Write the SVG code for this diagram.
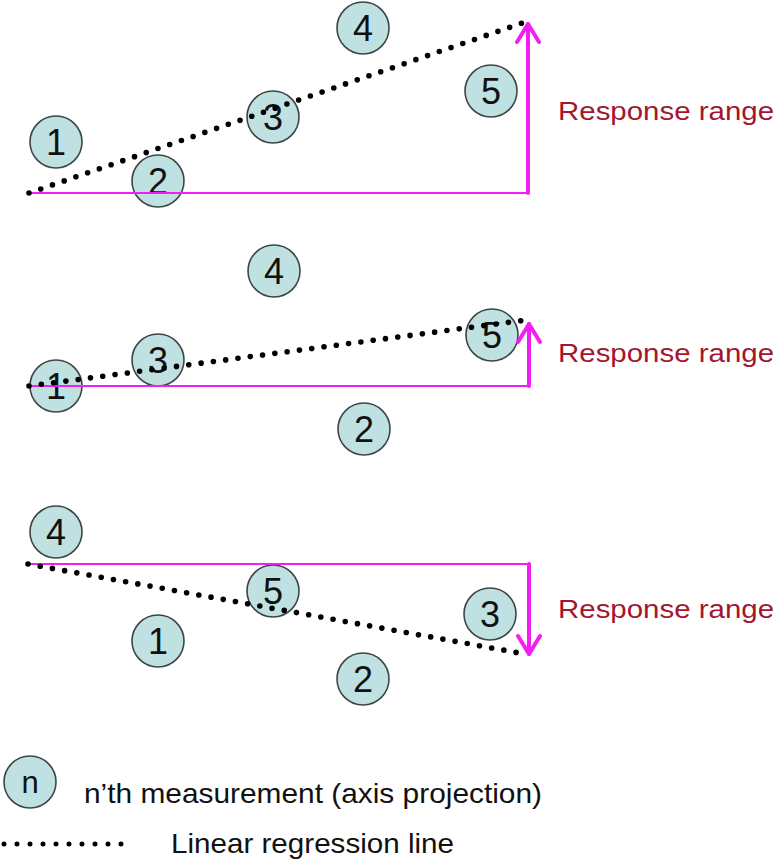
<svg xmlns="http://www.w3.org/2000/svg" width="778" height="864" viewBox="0 0 778 864">
<style>
.node circle{fill:#bfe1e1;stroke:#3d4545;stroke-width:1.6}
.node text{font-family:"Liberation Sans",Arial,sans-serif;font-size:36px;fill:#111;text-anchor:middle}
.base{stroke:#f21ef2;stroke-width:2.2;fill:none}
.arrow{stroke:#f21ef2;stroke-width:4;fill:none;stroke-linecap:round;stroke-linejoin:round}
.reg{stroke:#000;stroke-width:5.6;stroke-linecap:round;stroke-dasharray:0 12.4;fill:none}
.lbl{font-family:"Liberation Sans",Arial,sans-serif;font-size:26.5px;fill:#a3162f}
.leg{font-family:"Liberation Sans",Arial,sans-serif;font-size:28.5px;fill:#111}
</style>
<rect width="778" height="864" fill="#fff"/>
<!-- Panel 1 nodes -->
<g id="p1n1" class="node"><circle cx="56" cy="142" r="26"/><text x="56" y="155">1</text></g>
<g id="p1n2" class="node"><circle cx="158" cy="181" r="26"/><text x="158" y="194">2</text></g>
<g id="p1n3" class="node"><circle cx="273" cy="117" r="26"/><text x="273" y="130">3</text></g>
<g id="p1n4" class="node"><circle cx="363" cy="28" r="26"/><text x="363" y="41">4</text></g>
<g id="p1n5" class="node"><circle cx="491" cy="91" r="26"/><text x="491" y="104">5</text></g>
<!-- Panel 2 nodes -->
<g id="p2n1" class="node"><circle cx="56" cy="386" r="26"/><text x="56" y="399">1</text></g>
<g id="p2n2" class="node"><circle cx="364" cy="429" r="26"/><text x="364" y="442">2</text></g>
<g id="p2n3" class="node"><circle cx="158" cy="360" r="26"/><text x="158" y="373">3</text></g>
<g id="p2n4" class="node"><circle cx="274" cy="271" r="26"/><text x="274" y="284">4</text></g>
<g id="p2n5" class="node"><circle cx="492" cy="335" r="26"/><text x="492" y="348">5</text></g>
<!-- Panel 3 nodes -->
<g id="p3n1" class="node"><circle cx="158" cy="641" r="26"/><text x="158" y="654">1</text></g>
<g id="p3n2" class="node"><circle cx="363" cy="679" r="26"/><text x="363" y="692">2</text></g>
<g id="p3n3" class="node"><circle cx="490" cy="614" r="26"/><text x="490" y="627">3</text></g>
<g id="p3n4" class="node"><circle cx="56" cy="532" r="26"/><text x="56" y="545">4</text></g>
<g id="p3n5" class="node"><circle cx="273" cy="591" r="26"/><text x="273" y="604">5</text></g>
<!-- Legend node -->
<g id="legend-node" class="node"><circle cx="30" cy="782" r="26"/><text x="30" y="793" style="font-size:31px">n</text></g>
<!-- Connectors -->
<g id="connectors">
  <line class="base" x1="29" y1="193" x2="529" y2="193"/>
  <line class="arrow" x1="528" y1="193" x2="528" y2="24"/>
  <polyline class="arrow" points="517,42 528,24 539,42"/>
  <line class="reg" x1="29" y1="193" x2="528" y2="21"/>

  <line class="base" x1="29" y1="386" x2="530" y2="386"/>
  <line class="arrow" x1="529" y1="386" x2="529" y2="324"/>
  <polyline class="arrow" points="518,342 529,324 540,342"/>
  <line class="reg" x1="29" y1="386" x2="526" y2="320"/>

  <line class="base" x1="28" y1="564" x2="530" y2="564"/>
  <line class="arrow" x1="529" y1="564" x2="529" y2="654"/>
  <polyline class="arrow" points="518,636 529,654 540,636"/>
  <line class="reg" x1="28" y1="564" x2="525" y2="654"/>

  <line class="reg" x1="4" y1="844" x2="134" y2="844" style="stroke-dasharray:0 13;stroke-width:5"/>
</g>
<!-- Labels -->
<text class="lbl" x="558" y="120" textLength="216" lengthAdjust="spacingAndGlyphs">Response range</text>
<text class="lbl" x="558" y="362" textLength="216" lengthAdjust="spacingAndGlyphs">Response range</text>
<text class="lbl" x="558" y="618" textLength="216" lengthAdjust="spacingAndGlyphs">Response range</text>
<text class="leg" x="84" y="803" textLength="458" lengthAdjust="spacingAndGlyphs">n’th measurement (axis projection)</text>
<text class="leg" x="171" y="853" textLength="283" lengthAdjust="spacingAndGlyphs">Linear regression line</text>
</svg>
